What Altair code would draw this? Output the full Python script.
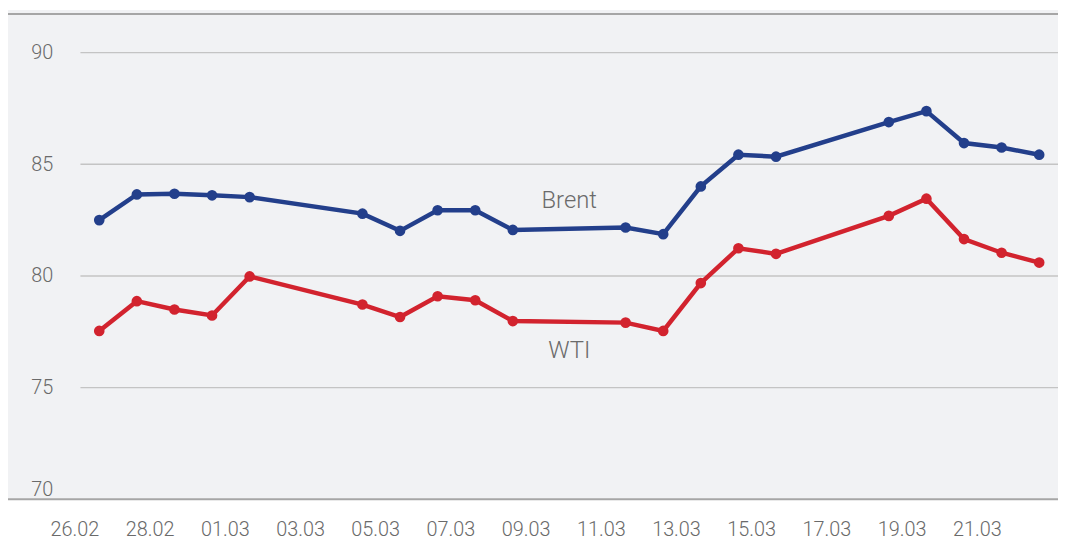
import altair as alt
import pandas as pd

# ---- data ----
dates = ["2024-02-26", "2024-02-27", "2024-02-28", "2024-02-29", "2024-03-01",
         "2024-03-04", "2024-03-05", "2024-03-06", "2024-03-07", "2024-03-08",
         "2024-03-11", "2024-03-12", "2024-03-13", "2024-03-14", "2024-03-15",
         "2024-03-18", "2024-03-19", "2024-03-20", "2024-03-21", "2024-03-22"]
brent = [82.50, 83.65, 83.68, 83.61, 83.53,
         82.79, 82.02, 82.94, 82.94, 82.06,
         82.17, 81.87, 84.01, 85.43, 85.34,
         86.89, 87.38, 85.95, 85.75, 85.43]
wti = [77.54, 78.87, 78.50, 78.23, 79.98,
       78.72, 78.16, 79.09, 78.91, 77.98,
       77.91, 77.54, 79.68, 81.24, 80.99,
       82.69, 83.46, 81.65, 81.04, 80.60]
series_names = ["Brent", "WTI"]
series_colors = ["#233f8b", "#d2232e"]
tick_dates = ["2024-02-26", "2024-02-28", "2024-03-01", "2024-03-03", "2024-03-05",
              "2024-03-07", "2024-03-09", "2024-03-11", "2024-03-13", "2024-03-15",
              "2024-03-17", "2024-03-19", "2024-03-21"]
y_ticks = [70, 75, 80, 85, 90]
grid_values = [75, 80, 85, 90]
label_texts = ["Brent", "WTI"]
label_dates = ["2024-03-09T12:00:00Z", "2024-03-09T12:00:00Z"]
label_values = [83.35, 76.65]

# ---- styling ----
W, H = 985, 489
LEFT, TOP = 73, 4
BG = "#f1f2f4"
TXT = "#6a6a6a"
FONT = "Roboto"


def ms(s):
    return int(pd.Timestamp(s, tz="UTC").timestamp() * 1000)


df = pd.DataFrame({
    "date": dates * 2,
    "value": brent + wti,
    "series": [series_names[0]] * len(dates) + [series_names[1]] * len(dates),
})
lab_df = pd.DataFrame({"date": label_dates, "value": label_values, "label": label_texts})
grid_df = pd.DataFrame({"value": grid_values})
one = pd.DataFrame({"a": [0]})

x_scale = alt.Scale(type="utc", domain=[ms("2024-02-25 12:00"), ms("2024-03-22 12:00")])
y_scale = alt.Scale(domain=[70, 91.73], nice=False, zero=False)

x_axis = alt.Axis(values=[ms(d) for d in tick_dates],
                  labelExpr="utcFormat(datum.value, '%d.%m')",
                  labelOffset=-25, labelPadding=20, ticks=False, domain=False, grid=False,
                  labelFlush=False, labelOverlap=False, labelBound=False,
                  labelFontSize=20, labelColor=TXT, labelFont=FONT, labelFontWeight=300,
                  title=None, zindex=2)
y_axis = alt.Axis(values=y_ticks, grid=False,
                  ticks=False, domain=False, labelPadding=28, labelFlush=True,
                  labelFontSize=20, labelColor=TXT, labelFont=FONT, labelFontWeight=300,
                  title=None, zindex=2)

bg_left = alt.Chart(one).mark_rect(color=BG).encode(
    x=alt.value(-LEFT), x2=alt.value(1), y=alt.value(-TOP), y2=alt.value(H))
bg_top = alt.Chart(one).mark_rect(color=BG).encode(
    x=alt.value(0), x2=alt.value(W), y=alt.value(-TOP), y2=alt.value(1))
top_rule = alt.Chart(one).mark_rule(color="#a6a6a6", strokeWidth=2).encode(
    x=alt.value(-LEFT), x2=alt.value(W), y=alt.value(0))
bottom_rule = alt.Chart(one).mark_rule(color="#a6a6a6", strokeWidth=2).encode(
    x=alt.value(-LEFT), x2=alt.value(W), y=alt.value(H))
grid = alt.Chart(grid_df).mark_rule(color="#c4c4c4", strokeWidth=1.5).encode(
    y=alt.Y("value:Q", scale=y_scale, axis=y_axis), x=alt.value(0), x2=alt.value(W))

lines = alt.Chart(df).mark_line(
    strokeWidth=4.5,
    point=alt.OverlayMarkDef(size=115, filled=True, opacity=1),
).encode(
    x=alt.X("date:T", scale=x_scale, axis=x_axis),
    y=alt.Y("value:Q", scale=y_scale, axis=y_axis),
    color=alt.Color("series:N", scale=alt.Scale(domain=series_names, range=series_colors),
                    legend=None),
)

labels = alt.Chart(lab_df).mark_text(
    font=FONT, fontSize=24, fontWeight=300, color=TXT
).encode(
    x=alt.X("date:T", scale=x_scale),
    y=alt.Y("value:Q", scale=y_scale),
    text="label:N",
)

chart = alt.layer(bg_left, bg_top, grid, top_rule, bottom_rule, lines, labels).properties(
    width=W, height=H,
    autosize=alt.AutoSizeParams(type="none"),
    padding={"left": LEFT, "top": TOP, "right": 0, "bottom": 40},
    background="white",
).configure_view(fill=BG, strokeOpacity=0)

chart.save("out.html", embed_options={"renderer": "svg", "actions": False})
